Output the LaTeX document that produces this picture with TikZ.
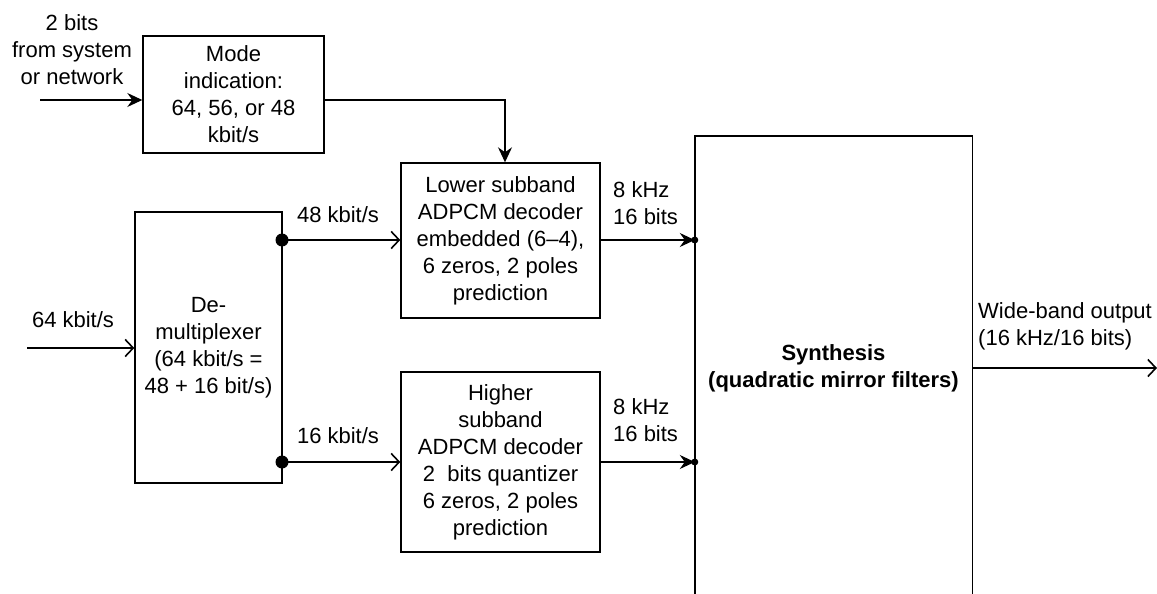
\documentclass[tikz,border=0pt]{standalone}
\usepackage{fontspec}
\setmainfont{Liberation Sans}
\usetikzlibrary{arrows.meta}
\begin{document}
\begin{tikzpicture}[x=1pt,y=-1pt,
  every node/.style={font=\fontsize{22}{27}\selectfont, align=center, inner sep=0pt},
  block/.style={draw, line width=1.4pt, rectangle},
  wire/.style={line width=1.3pt},
  solid tip/.style={wire, -{Stealth[length=15pt,width=14pt,inset=5pt]}},
  open tip/.style={wire, -{Straight Barb[length=8pt,width=17pt,line width=1.6pt]}},
  junction/.style={circle, fill, inner sep=0pt, minimum size=#1},
  lbl/.style={align=left}
]
\useasboundingbox (0,0) rectangle (1157,594);

% blocks
\node[block, minimum width=181pt, minimum height=117pt] (mode) at (233.5,94.5)
  {Mode\\indication:\\64, 56, or 48\\kbit/s};
\node[block, minimum width=199pt, minimum height=155pt] (lower) at (500.5,240.5)
  {Lower subband\\ADPCM decoder\\embedded (6--4),\\6 zeros, 2 poles\\prediction};
\node[block, minimum width=199pt, minimum height=180pt] (higher) at (500.5,462)
  {Higher\\subband\\ADPCM decoder\\2\ \ bits quantizer\\6 zeros, 2 poles\\prediction};
\node[block, minimum width=147pt, minimum height=271pt] (demux) at (208.5,347.5)
  {De-\\multiplexer\\(64 kbit/s =\\48 + 16 bit/s)};
\node[minimum width=277pt, minimum height=464pt] (synth) at (833.5,368)
  {\bfseries Synthesis\\\bfseries (quadratic mirror filters)};
\draw[line width=1.4pt] (synth.south west) -- (synth.north west)
  -- (synth.north east) -- (synth.south east);

% free ends and branch points
\coordinate (in2) at (40,100);
\coordinate (in64) at (27,348);
\coordinate (m1) at (505,100);
\coordinate (j1) at (282,240);
\coordinate (j2) at (282,462);
\coordinate (out) at (1157,368);

% connectors
\draw[solid tip] (in2) -- (mode.west |- in2);
\draw[solid tip] (mode.east |- m1) -- (m1) -- (lower.north -| m1);
\draw[open tip] (in64) -- (demux.west |- in64);
\draw[open tip] (j1) -- (lower.west |- j1);
\draw[open tip] (j2) -- (higher.west |- j2);
\draw[solid tip] (lower.east |- j1) -- (synth.west |- j1);
\draw[solid tip] (higher.east |- j2) -- (synth.west |- j2);
\draw[open tip] (synth.east |- out) -- (out);

% junction dots
\node[junction=13pt] at (j1) {};
\node[junction=13pt] at (j2) {};
\node[junction=7pt] at (synth.west |- j1) {};
\node[junction=7pt] at (synth.west |- j2) {};

% labels
\node (l2bits) at (72,50) {2 bits\\from system\\or network};
\node (l64) at (73,320) {64 kbit/s};
\node (l48) at (338,215) {48 kbit/s};
\node (l16) at (338,436) {16 kbit/s};
\node[lbl, anchor=west] (lk1) at (613,203) {8 kHz\\16 bits};
\node[lbl, anchor=west] (lk2) at (613,420) {8 kHz\\16 bits};
\node[lbl, anchor=west] (lwb) at (978,326) {Wide-band output\\(16 kHz/16 bits)};
\end{tikzpicture}
\end{document}
